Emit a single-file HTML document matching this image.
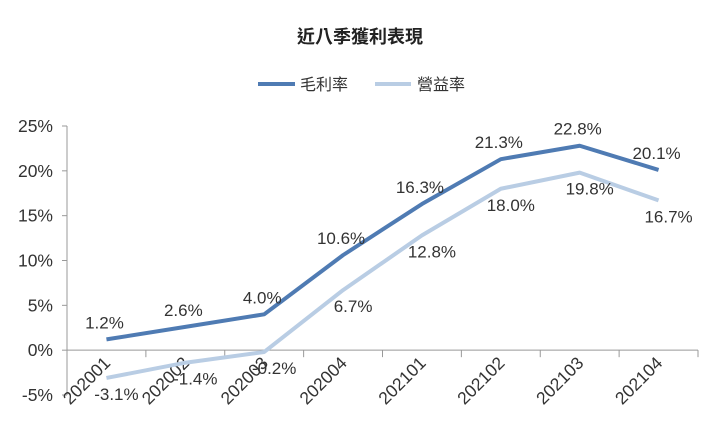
<!DOCTYPE html>
<html><head><meta charset="utf-8"><style>
body{margin:0;background:#fff;}
svg{display:block;font-family:"Liberation Sans","Noto Sans CJK TC",sans-serif;}
</style></head><body>
<svg id="chart" width="720" height="435" viewBox="0 0 720 435">
<text x="360" y="43" text-anchor="middle" font-size="18" font-weight="bold" fill="#222">近八季獲利表現</text>
<g>
<line x1="258" y1="84" x2="295" y2="84" stroke="#4f7bb3" stroke-width="4"/>
<text x="300" y="90" font-size="16" fill="#333">毛利率</text>
<line x1="375" y1="84" x2="411" y2="84" stroke="#b9cde4" stroke-width="4"/>
<text x="417" y="90" font-size="16" fill="#333">營益率</text>
</g>
<g id="axes"></g>
<g id="series"></g>
</svg>
<script>
const categories=["202001","202002","202003","202004","202101","202102","202103","202104"];
const grossMargin=[1.2,2.6,4.0,10.6,16.3,21.3,22.8,20.1];
const operatingMargin=[-3.1,-1.4,-0.2,6.7,12.8,18.0,19.8,16.7];
const yTicks=[-5,0,5,10,15,20,25];
const NS="http://www.w3.org/2000/svg";
const x0=67,x1=698,yTop=126,yBot=395,vMin=-5,vMax=25;
const step=(x1-x0)/categories.length;
function xs(i){return x0+step*(i+0.5);}
function ys(v){return yBot-(v-vMin)/(vMax-vMin)*(yBot-yTop);}
function mk(tag,attrs,parent){const e=document.createElementNS(NS,tag);for(const k in attrs)e.setAttribute(k,attrs[k]);parent.appendChild(e);return e;}
const axes=document.getElementById('axes'),series=document.getElementById('series');
let e=mk('line',{x1:x0,y1:yTop,x2:x0,y2:yBot,stroke:'#999','stroke-width':1},axes);


yTicks.forEach(t=>{
  const tk=mk('line',{x1:x0-5,y1:ys(t),x2:x0,y2:ys(t),stroke:'#999'},axes);
  
  
  const tl=mk('text',{x:x0-14,y:ys(t)+6,'text-anchor':'end','font-size':17.5,fill:'#333'},axes);
  tl.textContent=t+'%';
  
  
});
e=mk('line',{x1:x0,y1:ys(0),x2:x1,y2:ys(0),stroke:'#999','stroke-width':1},axes);


for(let i=0;i<=categories.length;i++){
  const tk=mk('line',{x1:x0+step*i,y1:ys(0),x2:x0+step*i,y2:ys(0)+7,stroke:'#999'},axes);
  
  
}
categories.forEach((c,i)=>{
  const cx=xs(i)+5,cy=ys(0)+14;
  const tl=mk('text',{x:cx,y:cy,'text-anchor':'end','font-size':17.5,fill:'#333',transform:`rotate(-45 ${cx} ${cy})`},axes);
  tl.textContent=c;
  
  
});
function drawSeries(vals,color,name,dx,dy){
  const pts=vals.map((v,i)=>xs(i)+','+ys(v)).join(' ');
  const pl=mk('polyline',{points:pts,fill:'none',stroke:color,'stroke-width':4,'stroke-linejoin':'round'},series);
  
  
  vals.forEach((v,i)=>{
    const t=mk('text',{x:xs(i)+dx,y:ys(v)+dy+6,'text-anchor':'middle','font-size':17,fill:'#333'},series);
    t.textContent=v.toFixed(1)+'%';
    
    
  });
}
drawSeries(operatingMargin,'#b9cde4','operating-margin',10,16);
drawSeries(grossMargin,'#4f7bb3','gross-margin',-2,-17);
</script>
</body></html>
